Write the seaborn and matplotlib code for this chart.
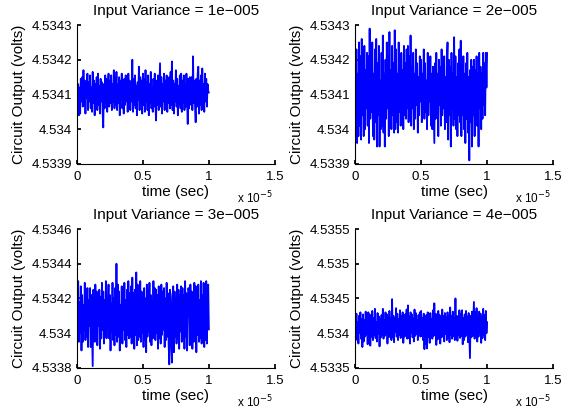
import matplotlib
matplotlib.use('Agg')
import matplotlib.pyplot as plt
import numpy as np
import seaborn as sns

# panel titles
variances = ['1e\u2212005', '2e\u2212005', '3e\u2212005', '4e\u2212005']

# circuit output, read off the picture as microvolts above the baseline
# (201 samples each, one row = 0.1e-5 s)
baseline = 4.5341
out_1_uv = [
    10, -40, 30, -60, 20, -55, 45, -20, 50, -35, 70, -30, 40, -55, 25, -10, 60, -45, 35, -20,
    55, -40, 20, -50, 65, -25, 40, -60, 30, -15, 50, -45, 60, -30, 25, -55, 45, -20, 35, -50,
    -95, 30, -40, 55, -20, 45, -50, 25, 60, -35, 40, -25, 55, -45, 30, -20, 70, -40, 50, -30,
    65, -45, 30, -25, 50, -60, 40, -15, 60, -40, 25, -55, 45, -30, 55, -20, 35, -50, 60, -35,
    40, -45, 30, -20, 100, -50, 45, -30, 55, -40, 25, -60, 35, -15, 80, -45, 50, -25, 40, -55,
    60, -30, 45, -50, 70, -20, 35, -45, 55, -60, 30, -25, 65, -40, 20, -50, 45, -35, 60, -30,
    -75, 40, -30, 55, -45, 25, 90, -35, 50, -55, 30, -20, 60, -45, 40, -30, 55, -50, 35, -25,
    50, -40, 65, -30, 95, -45, 40, -55, 30, -20, 70, -35, 45, -60, 25, -30, 55, -40, 60, -50,
    40, -25, 55, -45, 30, -35, 60, -20, -85, 45, -40, 50, 35, -30, 50, -45, 110, -25, 40, -30,
    -80, 45, -35, 60, 80, -55, 40, -30, 55, -45, 75, -40, 30, -50, 60, -20, 45, -35, 30, 10,
    5]
out_2_uv = [
    90, -110, 130, -140, 60, -120, 150, -90, 110, -130, 160, -60, 90, -120, 140, -100, 70, -40, 120, -90,
    110, -140, 190, -70, 100, -50, 150, -120, 60, -130, 130, -80, 160, -150, 90, -60, 140, -150, 40, -100,
    120, -90, 170, -110, 60, -150, 100, -70, 150, -40, 110, -120, 180, -90, 70, -100, 140, -60, 90, -110,
    185, -100, 130, -80, 60, -110, 150, -50, 100, -90, 120, -30, 70, -100, 140, -60, 90, -70, 130, -40,
    140, -80, 110, -60, 170, -90, 80, -40, 120, -100, 60, -70, 130, -30, 90, -110, 50, -60, 110, -20,
    100, -80, 60, -40, 130, -70, 90, -50, 40, -100, 120, -60, 70, -20, 110, -90, 60, -100, 80, -30,
    -140, 90, -70, 120, -50, 60, -120, 100, -30, 80, -90, 130, -60, 70, -40, 110, -100, 50, -80, 90,
    150, -130, 100, -60, 80, -150, 120, -40, 60, -90, 165, -70, 110, -100, 50, -120, 90, -60, 130, -80,
    155, -120, 80, -60, 110, -100, 60, -140, 90, -70, 120, -110, 50, -190, 70, -80, 100, -150, 80, -60,
    100, -120, 70, -50, 110, -90, 60, -150, 120, -40, 80, -100, 60, -70, 120, -30, 90, -60, 120, 20,
    120]
out_3_uv = [
    180, -130, 200, -150, 80, -100, 170, -200, 120, -150, 60, -80, 190, -140, 100, -120, 160, -180, 90, -60,
    160, -180, 120, -90, -290, 150, 70, -150, 180, -100, 140, -170, 80, -60, 150, -190, 110, -130, 190, -80,
    140, -160, 90, -120, 200, -130, 100, 60, 180, -130, 120, -200, 70, -90, 190, -140, 100, -170, 160, -110,
    300, -150, 180, -120, 140, -200, 60, -100, 170, -160, 120, -80, 190, -140, 90, -180, 150, -110, 200, -130,
    130, -120, 170, -160, 220, -90, 130, -190, 150, -110, 250, -170, 180, -140, 60, -120, 200, -150, 140, -100,
    130, -180, 160, -140, 100, -210, 180, -120, 150, -90, 190, -150, 120, -170, 90, -130, 200, -110, 160, -140,
    150, -100, 120, -190, 170, -130, 90, -160, 180, -110, 140, -80, 160, -180, 100, -140, 190, -120, 130, -160,
    -280, 150, 120, -180, -270, 100, 170, -210, 140, -120, 100, -160, 180, -130, 150, -190, 120, -90, 170, -150,
    160, -130, 120, -190, 200, -120, 130, -200, 100, 160, 130, -170, 180, -120, 140, -190, 100, -150, 190, -110,
    170, -210, 140, -110, 180, -150, 90, -130, 200, -160, 120, -100, 190, -180, 150, -140, 200, -160, 130, 180,
    -80]
out_4_uv = [
    120, -200, 180, -150, 60, -250, 150, -100, 200, -180, 100, -300, 170, -220, 90, -150, 210, -120, 140, -260,
    200, -100, 170, -280, 80, -150, 220, -200, 120, -130, 250, -170, 60, -220, 190, -110, 140, -290, 100, -160,
    160, -120, 250, -180, 90, -140, 200, -110, 170, -250, 130, -160, 220, -90, 110, -200, 390, -160, 150, -230,
    120, -80, 260, -150, 180, -200, 100, -130, 230, -170, 150, -100, 200, -240, 90, -150, 170, -120, 240, -180,
    300, -170, 140, -250, 200, -90, 170, -160, 110, -220, 240, -140, 190, -110, 90, -200, 160, -130, 200, -150,
    220, -140, 120, -200, 180, -330, 90, -260, 160, -320, 200, -150, 130, -240, 190, -120, 100, -180, 230, -140,
    330, -120, 180, -270, 130, -190, 220, -100, 160, -250, 110, -160, 240, -130, 150, -220, 190, -110, 130, -200,
    200, -170, 140, -230, 270, -120, 150, -180, 210, -140, 120, -200, 400, -180, 150, -210, 100, -130, 230, -170,
    180, -140, 230, -260, 120, -200, 170, -150, 220, -120, 140, -230, 190, -110, -460, 150, -160, 210, -140, 120,
    350, -180, 200, -130, 260, -220, 140, -150, 210, -100, 180, -240, 130, -170, 250, -120, 160, -200, 220, -100,
    60]

x_ticks = [0, 0.5e-5, 1e-5, 1.5e-5]
x_tick_labels = ['0', '0.5', '1', '1.5']
y_ticks = [
    [4.5339, 4.5340, 4.5341, 4.5342, 4.5343],
    [4.5339, 4.5340, 4.5341, 4.5342, 4.5343],
    [4.5338, 4.5340, 4.5342, 4.5344, 4.5346],
    [4.5335, 4.5340, 4.5345, 4.5350, 4.5355],
]
y_tick_labels = [
    ['4.5339', '4.534', '4.5341', '4.5342', '4.5343'],
    ['4.5339', '4.534', '4.5341', '4.5342', '4.5343'],
    ['4.5338', '4.534', '4.5342', '4.5344', '4.5346'],
    ['4.5335', '4.534', '4.5345', '4.535', '4.5355'],
]

sns.set_theme(style='ticks', rc={
    'xtick.direction': 'in', 'ytick.direction': 'in',
    'xtick.major.size': 3, 'ytick.major.size': 3,
    'axes.edgecolor': 'black', 'xtick.color': 'black', 'ytick.color': 'black',
    'text.color': 'black', 'axes.labelcolor': 'black',
    'axes.linewidth': 0.8,
})
plt.rcParams['font.family'] = ['Liberation Sans', 'DejaVu Sans']

fig = plt.figure(figsize=(5.61, 4.18), dpi=100)
positions = [
    [0.137, 0.608, 0.353, 0.332],
    [0.633, 0.608, 0.353, 0.332],
    [0.137, 0.120, 0.353, 0.332],
    [0.633, 0.120, 0.353, 0.332],
]
series = [out_1_uv, out_2_uv, out_3_uv, out_4_uv]

for i in range(4):
    ax = fig.add_axes(positions[i])
    vals = baseline + np.array(series[i]) * 1e-6
    t = np.linspace(0, 1e-5, len(vals))
    sns.lineplot(x=t, y=vals, ax=ax, color='#0000ff', linewidth=1.3,
                 estimator=None, sort=False)
    ax.set_xlim(0, 1.5e-5)
    ax.set_ylim(y_ticks[i][0], y_ticks[i][-1])
    ax.set_xticks(x_ticks)
    ax.set_xticklabels(x_tick_labels, fontsize=9.5)
    ax.set_yticks(y_ticks[i])
    ax.set_yticklabels(y_tick_labels[i], fontsize=9.5)
    ax.tick_params(axis='x', pad=5)
    ax.tick_params(axis='y', pad=3.5)
    sns.despine(ax=ax)
    ax.set_title(f'Input Variance = {variances[i]}', fontsize=11, pad=7)
    ax.set_xlabel('time (sec)', fontsize=11, labelpad=1.5)
    ax.set_ylabel('Circuit Output (volts)', fontsize=11, labelpad=4)
    ax.text(0.99, -0.245, r'x 10$^{-5}$', transform=ax.transAxes,
            ha='right', va='center', fontsize=8.5)

fig.savefig('out.png', dpi=100)
